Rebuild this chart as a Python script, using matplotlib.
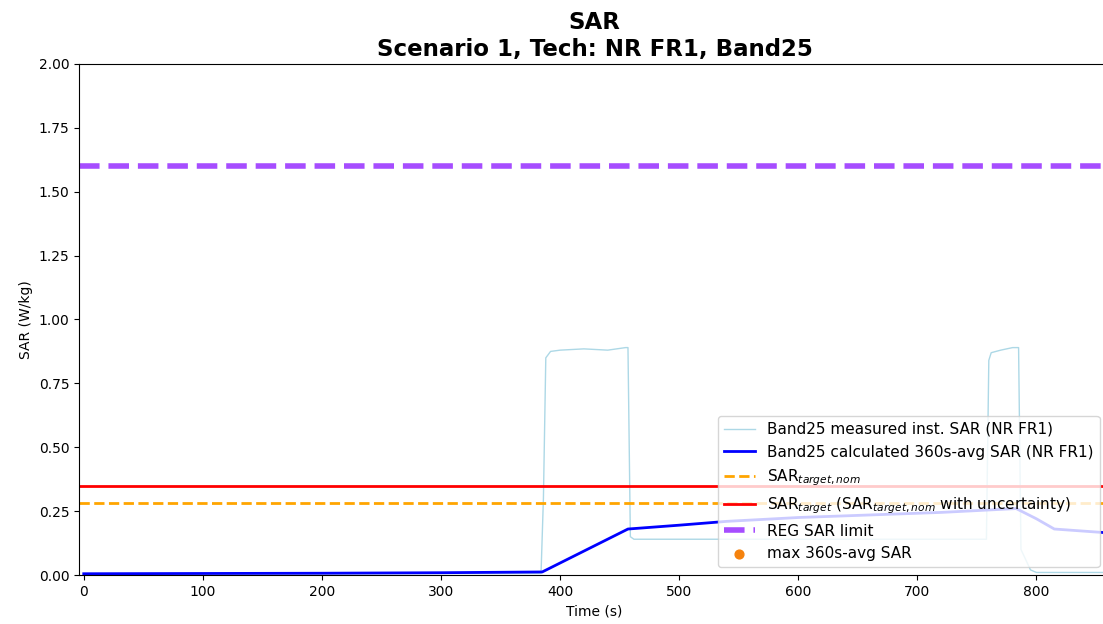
import matplotlib
matplotlib.use("Agg")
import matplotlib.pyplot as plt
import numpy as np

# measured instantaneous SAR (NR FR1, Band25)
t_inst = [0, 100, 200, 300, 384, 386, 388, 392, 400, 420, 440, 455, 457, 459, 462, 480,
          520, 560, 620, 700, 758, 760, 762, 770, 780, 785, 787, 795, 800, 860]
sar_inst = [0.005, 0.005, 0.005, 0.006, 0.006, 0.3, 0.85, 0.875, 0.88, 0.885, 0.88, 0.89, 0.89,
            0.15, 0.14, 0.14, 0.14, 0.14, 0.14, 0.14, 0.14, 0.84, 0.87,
            0.88, 0.89, 0.89, 0.1, 0.02, 0.01, 0.01]

# 360s-average SAR
t_avg = [0, 100, 200, 300, 385, 457, 500, 540, 600, 660, 720, 783, 800, 815, 860]
sar_avg = [0.005, 0.006, 0.007, 0.009, 0.012, 0.18, 0.195, 0.21, 0.225, 0.235, 0.245, 0.26, 0.22, 0.18, 0.165]

# max of the 360s-avg (off the shown window)
t_max = []
sar_max = []

sar_target_nom = 0.28
sar_target = 0.35
reg_limit = 1.6

fig = plt.figure(figsize=(11.03, 6.24), dpi=100)
ax = fig.add_axes([0.0716, 0.0785, 0.935, 0.819])

ax.plot(t_inst, sar_inst, color="lightblue", lw=1, label="Band25 measured inst. SAR (NR FR1)")
ax.plot(t_avg, sar_avg, color="blue", lw=2, label="Band25 calculated 360s-avg SAR (NR FR1)")
ax.axhline(sar_target_nom, color="orange", ls="--", lw=2, label=r"SAR$_{target, nom}$")
ax.axhline(sar_target, color="red", lw=2, label=r"SAR$_{target}$ (SAR$_{target, nom}$ with uncertainty)")
ax.axhline(reg_limit, color="#a64dff", ls="--", lw=4, label="REG SAR limit")
ax.scatter(t_max, sar_max, color="#f5820d", marker="o", s=40, label="max 360s-avg SAR")

ax.set_xlim(-4, 862)
ax.set_ylim(0, 2)
ax.set_yticks(np.arange(0, 2.01, 0.25))
ax.set_xticks(np.arange(0, 801, 100))
ax.set_xlabel("Time (s)")
ax.set_ylabel("SAR (W/kg)")
ax.set_title("SAR\nScenario 1, Tech: NR FR1, Band25", fontsize=16.5, fontweight="bold")
ax.legend(loc="lower right", fontsize=11, bbox_to_anchor=(0.997, 0.0))

fig.savefig("out.png", dpi=100)
